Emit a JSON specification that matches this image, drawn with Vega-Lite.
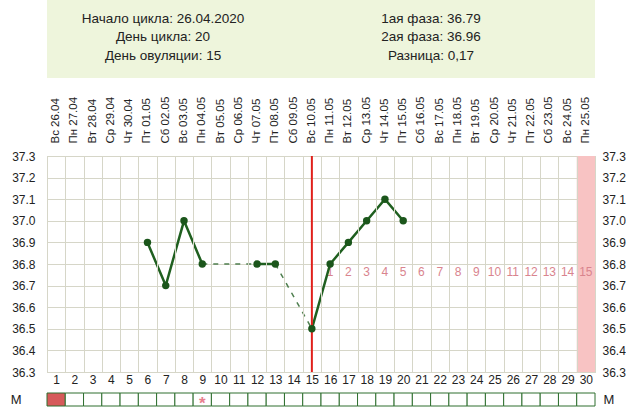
{
  "$schema": "https://vega.github.io/schema/vega-lite/v6.json",
  "padding": 0,
  "background": "white",
  "config": {
    "font": "Liberation Sans",
    "view": {"stroke": null},
    "concat": {"spacing": 2},
    "axis": {"labelColor": "#222222", "labelFont": "Liberation Sans", "labelOverlap": false}
  },
  "datasets": {
    "header": [
      {"col": 1, "row": 1, "text": "Начало цикла: 26.04.2020"},
      {"col": 1, "row": 2, "text": "День цикла: 20"},
      {"col": 1, "row": 3, "text": "День овуляции: 15"},
      {"col": 2, "row": 1, "text": "1ая фаза: 36.79"},
      {"col": 2, "row": 2, "text": "2ая фаза: 36.96"},
      {"col": 2, "row": 3, "text": "Разница: 0,17"}
    ],
    "days": [
      {"day": 1, "date": "Вс 26.04", "flow": true},
      {"day": 2, "date": "Пн 27.04"},
      {"day": 3, "date": "Вт 28.04"},
      {"day": 4, "date": "Ср 29.04"},
      {"day": 5, "date": "Чт 30.04"},
      {"day": 6, "date": "Пт 01.05"},
      {"day": 7, "date": "Сб 02.05"},
      {"day": 8, "date": "Вс 03.05"},
      {"day": 9, "date": "Пн 04.05"},
      {"day": 10, "date": "Вт 05.05"},
      {"day": 11, "date": "Ср 06.05"},
      {"day": 12, "date": "Чт 07.05"},
      {"day": 13, "date": "Пт 08.05"},
      {"day": 14, "date": "Сб 09.05"},
      {"day": 15, "date": "Вс 10.05"},
      {"day": 16, "date": "Пн 11.05", "luteal": 1},
      {"day": 17, "date": "Вт 12.05", "luteal": 2},
      {"day": 18, "date": "Ср 13.05", "luteal": 3},
      {"day": 19, "date": "Чт 14.05", "luteal": 4},
      {"day": 20, "date": "Пт 15.05", "luteal": 5},
      {"day": 21, "date": "Сб 16.05", "luteal": 6},
      {"day": 22, "date": "Вс 17.05", "luteal": 7},
      {"day": 23, "date": "Пн 18.05", "luteal": 8},
      {"day": 24, "date": "Вт 19.05", "luteal": 9},
      {"day": 25, "date": "Ср 20.05", "luteal": 10},
      {"day": 26, "date": "Чт 21.05", "luteal": 11},
      {"day": 27, "date": "Пт 22.05", "luteal": 12},
      {"day": 28, "date": "Сб 23.05", "luteal": 13},
      {"day": 29, "date": "Вс 24.05", "luteal": 14},
      {"day": 30, "date": "Пн 25.05", "luteal": 15, "expected": true}
    ],
    "temps": [
      {"day": 6, "temp": 36.9},
      {"day": 7, "temp": 36.7},
      {"day": 8, "temp": 37.0},
      {"day": 9, "temp": 36.8},
      {"day": 12, "temp": 36.8},
      {"day": 13, "temp": 36.8},
      {"day": 15, "temp": 36.5},
      {"day": 16, "temp": 36.8},
      {"day": 17, "temp": 36.9},
      {"day": 18, "temp": 37.0},
      {"day": 19, "temp": 37.1},
      {"day": 20, "temp": 37.0}
    ],
    "segments": [
      {"seg": "s1", "style": "solid", "day": 6, "temp": 36.9},
      {"seg": "s1", "style": "solid", "day": 7, "temp": 36.7},
      {"seg": "s1", "style": "solid", "day": 8, "temp": 37.0},
      {"seg": "s1", "style": "solid", "day": 9, "temp": 36.8},
      {"seg": "s2", "style": "solid", "day": 12, "temp": 36.8},
      {"seg": "s2", "style": "solid", "day": 13, "temp": 36.8},
      {"seg": "s3", "style": "solid", "day": 15, "temp": 36.5},
      {"seg": "s3", "style": "solid", "day": 16, "temp": 36.8},
      {"seg": "s3", "style": "solid", "day": 17, "temp": 36.9},
      {"seg": "s3", "style": "solid", "day": 18, "temp": 37.0},
      {"seg": "s3", "style": "solid", "day": 19, "temp": 37.1},
      {"seg": "s3", "style": "solid", "day": 20, "temp": 37.0},
      {"seg": "d1", "style": "dashed", "day": 9, "temp": 36.8},
      {"seg": "d1", "style": "dashed", "day": 12, "temp": 36.8},
      {"seg": "d2", "style": "dashed", "day": 13, "temp": 36.8},
      {"seg": "d2", "style": "dashed", "day": 15, "temp": 36.5}
    ],
    "ovulation": [{"day": 15}],
    "notes": [{"day": 9, "symbol": "*"}]
  },
  "vconcat": [
    {
      "width": 548,
      "height": 78,
      "view": {"fill": "#eef5dc", "stroke": null},
      "data": {"name": "header"},
      "mark": {"type": "text", "fontSize": 13.5, "color": "#222222"},
      "encoding": {
        "x": {"field": "col", "type": "quantitative", "scale": {"domain": [0.567, 2.612], "nice": false, "zero": false}, "axis": null},
        "y": {
          "field": "row", "type": "quantitative",
          "scale": {"domain": [0, 4.2], "reverse": true, "nice": false, "zero": false},
          "axis": {"labels": false, "ticks": false, "domain": false, "grid": false, "title": null, "minExtent": 46, "maxExtent": 46}
        },
        "text": {"field": "text"}
      }
    },
    {
      "width": 548,
      "height": 216,
      "view": {"stroke": "#c8c8b8"},
      "layer": [
        {
          "data": {"name": "temps"},
          "mark": {"type": "point", "opacity": 0},
          "encoding": {
            "y": {
              "field": "temp", "type": "quantitative",
              "scale": {"domain": [36.3, 37.3], "nice": false, "zero": false},
              "axis": {"orient": "left", "title": null, "values": [36.3, 36.4, 36.5, 36.6, 36.7, 36.8, 36.9, 37.0, 37.1, 37.2, 37.3], "format": ".1f", "grid": true, "gridColor": "#d6d6c8", "ticks": false, "domain": false, "labelOverlap": false, "labelPadding": 12, "labelFontSize": 12, "minExtent": 46, "maxExtent": 46}
            }
          }
        },
        {
          "layer": [
            {
              "data": {"name": "days"},
              "transform": [{"filter": "datum.expected"}],
              "mark": {"type": "rect", "color": "#f8c3c3"},
              "encoding": {
                "x": {
                  "field": "day", "type": "ordinal",
                  "scale": {"type": "band", "domain": [1,2,3,4,5,6,7,8,9,10,11,12,13,14,15,16,17,18,19,20,21,22,23,24,25,26,27,28,29,30], "paddingInner": 0, "paddingOuter": 0},
                  "axis": {"orient": "bottom", "title": null, "labelAngle": 0, "ticks": false, "domain": false, "grid": true, "tickBand": "extent", "gridColor": "#d6d6c8", "labelPadding": 2, "labelFontSize": 12, "minExtent": 17, "maxExtent": 17}
                }
              }
            },
            {
              "data": {"name": "days"},
              "transform": [{"filter": "datum.luteal"}],
              "mark": {"type": "text", "fontSize": 12, "color": "#d9848e"},
              "encoding": {
                "x": {"field": "day", "type": "ordinal", "bandPosition": 0.5},
                "y": {"datum": 36.765, "type": "quantitative", "scale": {"domain": [36.3, 37.3], "nice": false, "zero": false}, "axis": null},
                "text": {"field": "luteal"}
              }
            },
            {
              "data": {"name": "segments"},
              "transform": [{"filter": "datum.style === 'dashed'"}],
              "mark": {"type": "line", "color": "#4f7f4f", "strokeWidth": 1.5, "strokeDash": [5, 6]},
              "encoding": {
                "x": {"field": "day", "type": "ordinal", "bandPosition": 0.5},
                "y": {"field": "temp", "type": "quantitative", "axis": null},
                "detail": {"field": "seg"}
              }
            },
            {
              "data": {"name": "segments"},
              "transform": [{"filter": "datum.style === 'solid'"}],
              "mark": {"type": "line", "color": "#1f5f1f", "strokeWidth": 2.5},
              "encoding": {
                "x": {"field": "day", "type": "ordinal", "bandPosition": 0.5},
                "y": {"field": "temp", "type": "quantitative", "axis": null},
                "detail": {"field": "seg"}
              }
            },
            {
              "data": {"name": "ovulation"},
              "mark": {"type": "rule", "color": "#e0201b", "strokeWidth": 2},
              "encoding": {
                "x": {"field": "day", "type": "ordinal", "bandPosition": 0.5}
              }
            },
            {
              "data": {"name": "temps"},
              "mark": {"type": "circle", "size": 55, "color": "#1b561b", "opacity": 1},
              "encoding": {
                "x": {"field": "day", "type": "ordinal", "bandPosition": 0.5},
                "y": {"field": "temp", "type": "quantitative", "axis": null}
              }
            }
          ]
        },
        {
          "data": {"name": "days"},
          "mark": {"type": "rule", "opacity": 0},
          "encoding": {
            "x": {
              "field": "date", "type": "ordinal", "sort": null,
              "scale": {"type": "band", "paddingInner": 0, "paddingOuter": 0},
              "axis": {"orient": "top", "title": null, "labelAngle": -90, "ticks": false, "domain": false, "grid": false, "labelPadding": 13, "labelFontSize": 11.5, "minExtent": 75, "maxExtent": 75}
            }
          }
        },
        {
          "data": {"name": "temps"},
          "mark": {"type": "point", "opacity": 0},
          "encoding": {
            "y": {
              "field": "temp", "type": "quantitative",
              "scale": {"domain": [36.3, 37.3], "nice": false, "zero": false},
              "axis": {"orient": "right", "title": null, "values": [36.3, 36.4, 36.5, 36.6, 36.7, 36.8, 36.9, 37.0, 37.1, 37.2, 37.3], "format": ".1f", "grid": false, "ticks": false, "domain": false, "labelPadding": 7, "labelFontSize": 12}
            }
          }
        }
      ],
      "resolve": {"scale": {"x": "independent", "y": "independent"}}
    },
    {
      "width": 548,
      "height": 13,
      "layer": [
        {
          "data": {"name": "days"},
          "mark": {"type": "rect", "stroke": "#2f6f2f", "strokeWidth": 1},
          "encoding": {
            "x": {"field": "day", "type": "ordinal", "scale": {"type": "band", "paddingInner": 0, "paddingOuter": 0}, "axis": null},
            "y": {"datum": "M", "type": "nominal", "scale": {"paddingInner": 0, "paddingOuter": 0}, "axis": {"orient": "left", "title": null, "ticks": false, "domain": false, "labelFontSize": 13, "labelPadding": 26, "minExtent": 46, "maxExtent": 46}},
            "fill": {"condition": {"test": "datum.flow", "value": "#d65a5a"}, "value": "white"}
          }
        },
        {
          "data": {"name": "notes"},
          "mark": {"type": "text", "fontSize": 17, "fontWeight": "bold", "color": "#e8808e", "dy": 4},
          "encoding": {
            "x": {"field": "day", "type": "ordinal", "bandPosition": 0.5},
            "y": {"datum": "M", "type": "nominal", "axis": null},
            "text": {"field": "symbol"}
          }
        },
        {
          "data": {"name": "days"},
          "mark": {"type": "rect", "opacity": 0},
          "encoding": {
            "x": {"field": "day", "type": "ordinal"},
            "y": {"datum": "M", "type": "nominal", "scale": {"paddingInner": 0, "paddingOuter": 0}, "axis": {"orient": "right", "title": null, "ticks": false, "domain": false, "labelFontSize": 13, "labelPadding": 8}}
          }
        }
      ],
      "resolve": {"scale": {"y": "independent"}}
    }
  ]
}
